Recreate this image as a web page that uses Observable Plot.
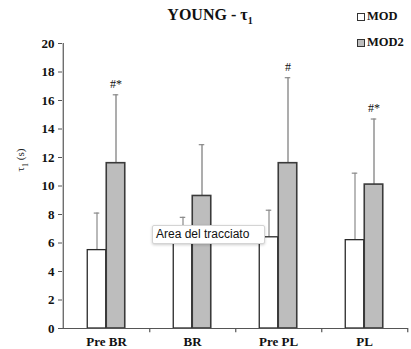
<!DOCTYPE html>
<html>
<head>
<meta charset="utf-8">
<script src="https://cdn.jsdelivr.net/npm/d3@7"></script>
<script src="https://cdn.jsdelivr.net/npm/@observablehq/plot@0.6"></script>
<style>
  body { margin: 0; background: #fff; }
  #wrap { position: relative; width: 411px; height: 349px; font-family: "Liberation Serif", "DejaVu Serif", serif; }
  #chart svg, #chart svg text { font-family: "Liberation Serif", "DejaVu Serif", serif !important; }
  #title { position: absolute; left: 0; width: 420px; top: 6px; text-align: center; font-weight: bold; font-size: 16px; color: #111; }
  #title sub { font-size: 10px; }
  .leg { position: absolute; left: 357px; font-weight: bold; font-size: 12.5px; color: #111; display: flex; align-items: center; }
  .sw { display: inline-block; width: 6px; height: 6px; border: 1px solid #333; margin-right: 2px; }
  #ylab { position: absolute; left: 22px; top: 160px; transform: translate(-50%, -50%) rotate(-90deg); font-size: 11px; color: #222; white-space: nowrap; }
  #ylab sub { font-size: 8px; }
  #tip { position: absolute; left: 152px; top: 225px; width: 108px; height: 17px; background: #fff; border: 1px solid #d4d4d4; border-radius: 2px; box-shadow: 0 1px 3px rgba(0,0,0,0.2); font-family: "Liberation Sans", Arial, sans-serif; font-size: 12px; line-height: 17px; padding-left: 3px; color: #111; }
</style>
</head>
<body>
<div id="wrap">
  <div id="chart"></div>
  <div id="title">YOUNG - τ<sub>1</sub></div>
  <div class="leg" style="top:9px"><span class="sw" style="background:#fff"></span>MOD</div>
  <div class="leg" style="top:35px"><span class="sw" style="background:#bdbdbd"></span>MOD2</div>
  <div id="ylab">τ<sub>1</sub> (s)</div>
  <div id="tip">Area del tracciato</div>
</div>
<script>
const categories = ["Pre BR", "BR", "Pre PL", "PL"];
const modValues = [5.5, 6.6, 6.4, 6.2];
const modUpper = [8.1, 7.8, 8.3, 10.9];
const mod2Values = [11.6, 9.3, 11.6, 10.1];
const mod2Upper = [16.4, 12.9, 17.6, 14.7];
const significance = ["#*", "", "#", "#*"];
const yTicks = [0, 2, 4, 6, 8, 10, 12, 14, 16, 18, 20];

const rows = categories.map((c, i) => ({
  cat: c, mod: modValues[i], modUp: modUpper[i],
  mod2: mod2Values[i], mod2Up: mod2Upper[i], sig: significance[i]
}));

const W = 411, H = 349, ML = 62, MR = 3, MT = 43, MB = 21;
const bw = (W - ML - MR) / categories.length;   // band width
const barW = 19;
const half = bw / 2;
const cap = 3;
const serif = "'Liberation Serif', 'DejaVu Serif', serif";

const chart = Plot.plot({
  width: W, height: H,
  marginLeft: ML, marginRight: MR, marginTop: MT, marginBottom: MB,
  style: { background: "transparent" },
  x: { domain: categories, padding: 0, axis: null },
  y: { domain: [0, 20], axis: null },
  marks: [
    // error bars (upper only)
    Plot.ruleX(rows, { x: "cat", y1: "mod", y2: "modUp", dx: -barW / 2, stroke: "#8a8a8a", strokeWidth: 1.2 }),
    Plot.tickY(rows, { x: "cat", y: "modUp", dx: -barW / 2, insetLeft: half - cap, insetRight: half - cap, stroke: "#8a8a8a", strokeWidth: 1.2 }),
    Plot.ruleX(rows, { x: "cat", y1: "mod2", y2: "mod2Up", dx: barW / 2, stroke: "#8a8a8a", strokeWidth: 1.4 }),
    Plot.tickY(rows, { x: "cat", y: "mod2Up", dx: barW / 2, insetLeft: half - cap, insetRight: half - cap, stroke: "#8a8a8a", strokeWidth: 1.2 }),
    // bars
    Plot.barY(rows, { x: "cat", y: "mod", fill: "white", stroke: "#2a2a2a", strokeWidth: 1.3, insetLeft: half - barW, insetRight: half }),
    Plot.barY(rows, { x: "cat", y: "mod2", fill: "#bdbdbd", stroke: "#3a3a3a", strokeWidth: 1.6, insetLeft: half, insetRight: half - barW }),
    // significance marks
    Plot.text(rows, { x: "cat", y: "mod2Up", text: "sig", dx: barW / 2, dy: -11, fontSize: 12, fontFamily: serif, fill: "#111" }),
    // axes
    Plot.ruleY([0], { stroke: "#555", strokeWidth: 1.2 }),
    Plot.ruleX([categories[0]], { x: d => d, y1: 0, y2: 20, dx: -half, stroke: "#555", strokeWidth: 1.2 }),
    Plot.ruleX(categories, { x: d => d, y1: 0, y2: -0.3, dx: half, stroke: "#555", strokeWidth: 1.2 }),
    Plot.axisY({ ticks: yTicks, tickSize: 4, tickPadding: 4, fontSize: 13, fontWeight: "bold", fontFamily: serif, fill: "#111", stroke: "#555", label: null }),
    Plot.axisX({ tickSize: 0, tickPadding: 8, fontSize: 13, fontWeight: "bold", fontFamily: serif, fill: "#111", label: null })
  ]
});
document.getElementById("chart").appendChild(chart);
</script>
</body>
</html>
